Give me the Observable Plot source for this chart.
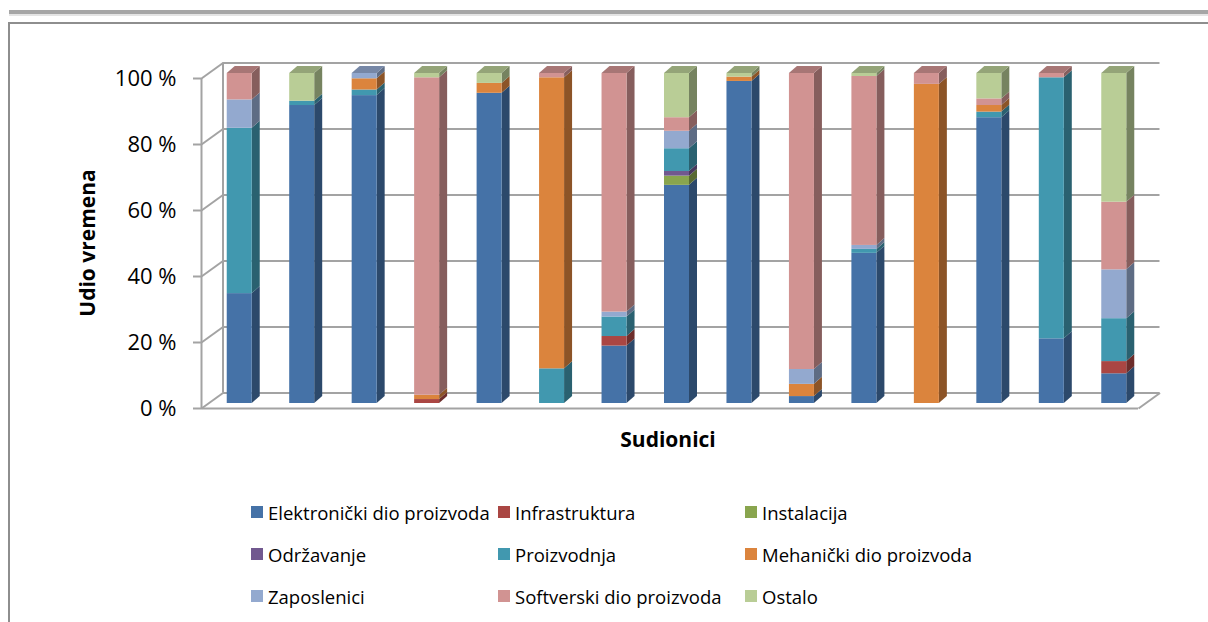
<!DOCTYPE html>
<html>
<head>
<meta charset="utf-8">
<script src="https://cdn.jsdelivr.net/npm/d3@7"></script>
<script src="https://cdn.jsdelivr.net/npm/@observablehq/plot@0.6"></script>
<style>
  html, body { margin: 0; padding: 0; background: #fff; }
  #wrap { position: relative; width: 1208px; height: 622px; overflow: hidden; background: #fff; font-family: "Open Sans", sans-serif; color: #000; }
  #topline { position: absolute; left: 9px; right: 0; top: 10px; height: 4px; background: #a6a6a6; }
  #topline2 { position: absolute; left: 9px; right: 0; top: 14px; height: 2px; background: #e4e4e4; }
  #box { position: absolute; left: 8px; top: 22px; width: 1300px; height: 800px; border: 2px solid #8e8e8e; box-sizing: border-box; }
  #chart { position: absolute; left: 0; top: 0; }
  #ytitle { position: absolute; left: 87px; top: 243px; transform: translate(-50%, -50%) rotate(-90deg); font-weight: 700; font-size: 21px; white-space: nowrap; }
  #xtitle { position: absolute; left: 668px; top: 425px; transform: translateX(-50%); font-weight: 700; font-size: 21px; white-space: nowrap; line-height: 28px; }
  .item { position: absolute; display: flex; align-items: center; height: 26px; font-size: 18.5px; white-space: nowrap; }
  .sw { width: 12px; height: 12px; margin-right: 5px; flex: none; }
</style>
</head>
<body>
<div id="wrap">
  <div id="topline"></div>
  <div id="topline2"></div>
  <div id="box"></div>
  <div id="chart"></div>
  <div id="ytitle">Udio vremena</div>
  <div id="xtitle">Sudionici</div>
  <div id="legend"></div>
</div>
<script>
// ---- data ----
const participants = d3.range(1, 16); // 15 sudionika
const seriesNames = [
  "Elektronički dio proizvoda", "Infrastruktura", "Instalacija",
  "Održavanje", "Proizvodnja", "Mehanički dio proizvoda",
  "Zaposlenici", "Softverski dio proizvoda", "Ostalo"
];
const seriesColors = ["#4572A7", "#AA4643", "#89A54E", "#71588F", "#4198AF", "#DB843D", "#93A9CF", "#D19392", "#B9CD96"];

const elektronicki  = [33.3, 90.3, 93.3, 0, 94, 0, 17.4, 66.1, 97.6, 2.1, 45.5, 0, 86.6, 19.6, 9];
const infrastruktura = [0, 0, 0, 1.2, 0, 0, 2.9, 0, 0, 0, 0, 0, 0, 0, 3.7];
const instalacija   = [0, 0, 0, 0, 0, 0, 0, 2.8, 0, 0, 0, 0, 0, 0, 0];
const odrzavanje    = [0, 0, 0, 0, 0, 0, 0, 1.4, 0, 0, 0, 0, 0, 0, 0];
const proizvodnja   = [50.1, 1.3, 1.7, 0, 0, 10.5, 5.9, 6.9, 0, 0, 1.2, 0, 1.7, 79.1, 13];
const mehanicki     = [0, 0, 3.4, 1.3, 3, 88.2, 0, 0, 1.3, 3.7, 0, 96.7, 2, 0, 0];
const zaposlenici   = [8.6, 0, 1.6, 0, 0, 0, 1.5, 5.3, 0, 4.5, 1.2, 0, 0, 0, 14.8];
const softverski    = [8, 0, 0, 96.2, 0, 1.3, 72.3, 4.1, 0, 89.7, 51.2, 3.3, 2, 1.3, 20.5];
const ostalo        = [0, 8.4, 0, 1.3, 3, 0, 0, 13.4, 1.1, 0, 0.9, 0, 7.7, 0, 39];
const seriesValues = [elektronicki, infrastruktura, instalacija, odrzavanje, proizvodnja, mehanicki, zaposlenici, softverski, ostalo];

const yTicks = [0, 20, 40, 60, 80, 100];

// ---- layout ----
const W = 1208, H = 470, mL = 208, mR = 63, mT = 73, mB = 67;
const kx = (participants.length) / (W - mL - mR); // x units per px
const ky = 100 / (H - mT - mB);                    // y units per px
const halfW = 12.5 * kx;
const depthX = 8 * kx, depthY = 7 * ky;            // bar depth
const front = {dx: -7, dy: 5};                     // front axis plane offset
const back = {dx: 14.5, dy: -10.5};                // back wall offset

const shade = (c, k) => { const r = d3.rgb(c); return d3.rgb(r.r * k, r.g * k, r.b * k).formatHex(); };

// build stacked segments
const segs = [];
participants.forEach((p, i) => {
  let acc = 0;
  seriesNames.forEach((s, j) => {
    const v = seriesValues[j][i];
    if (v > 0) {
      segs.push({p, s, j, y1: acc, y2: acc + v, color: seriesColors[j]});
      acc += v;
    }
  });
});
const sidePts = segs.flatMap((d, k) => [
  {key: k, x: d.p + halfW, y1: d.y1, y2: d.y2, fill: shade(d.color, 0.64)},
  {key: k, x: d.p + halfW + depthX, y1: d.y1 + depthY, y2: d.y2 + depthY, fill: shade(d.color, 0.64)}
]);
const tops = participants.map(p => segs.filter(d => d.p === p).at(-1));
const topPts = tops.flatMap((d, k) => [
  {key: k, y: d.y2, x1: d.p - halfW, x2: d.p + halfW, fill: shade(d.color, 0.8)},
  {key: k, y: d.y2 + depthY, x1: d.p - halfW + depthX, x2: d.p + halfW + depthX, fill: shade(d.color, 0.8)}
]);

const gridColor = "#a3a3a3";
const chart = Plot.plot({
  width: W, height: H,
  marginLeft: mL, marginRight: mR, marginTop: mT, marginBottom: mB,
  x: {domain: [0.5, participants.length + 0.5], axis: null},
  y: {domain: [0, 100], axis: null},
  color: {type: "identity"},
  style: {fontFamily: "Open Sans, sans-serif", background: "transparent", overflow: "visible"},
  marks: [
    // back wall gridlines
    Plot.ruleY(yTicks, {y: d => d, x1: 0.5, x2: participants.length + 0.5, dx: back.dx, dy: back.dy, stroke: gridColor, strokeWidth: 2}),
    Plot.ruleX([0.5], {y1: 0, y2: 100, dx: back.dx, dy: back.dy, stroke: gridColor, strokeWidth: 2}),
    // side wall diagonals
    Plot.link(yTicks, {x1: 0.5, y1: d => d, x2: 0.5 + 21.5 * kx, y2: d => d + 15.5 * ky, dx: front.dx, dy: front.dy, stroke: gridColor, strokeWidth: 2}),
    // floor
    Plot.ruleY([0], {x1: 0.5, x2: participants.length + 0.5, dx: front.dx, dy: front.dy, stroke: gridColor, strokeWidth: 2}),
    Plot.link([0], {x1: participants.length + 0.5, y1: 0, x2: participants.length + 0.5 + 21.5 * kx, y2: 15.5 * ky, dx: front.dx, dy: front.dy, stroke: gridColor, strokeWidth: 2}),
    // front axis line and ticks
    Plot.ruleX([0.5], {y1: 0, y2: 100, dx: front.dx, dy: front.dy, stroke: gridColor, strokeWidth: 2}),
    Plot.ruleY(yTicks, {y: d => d, x1: 0.5 - 8 * kx, x2: 0.5, dx: front.dx, dy: front.dy, stroke: gridColor, strokeWidth: 2}),
    Plot.text(yTicks, {x: 0.5, y: d => d, text: d => `${d} %`, textAnchor: "end", dx: -32, dy: front.dy, fontSize: 22, fill: "#000"}),
    // bars: side faces, top faces, front faces
    Plot.areaY(sidePts, {x: "x", y1: "y1", y2: "y2", z: "key", fill: "fill"}),
    Plot.areaX(topPts, {y: "y", x1: "x1", x2: "x2", z: "key", fill: "fill"}),
    Plot.rect(segs, {x1: d => d.p - halfW, x2: d => d.p + halfW, y1: "y1", y2: "y2", fill: "color"})
  ]
});
document.getElementById("chart").appendChild(chart);

// legend
const legend = document.getElementById("legend");
seriesNames.forEach((s, j) => {
  const col = j % 3, row = Math.floor(j / 3);
  const el = document.createElement("div");
  el.className = "item";
  el.style.left = (251 + col * 247) + "px";
  el.style.top = (512 + row * 42 - 13) + "px";
  el.innerHTML = `<span class="sw" style="background:${seriesColors[j]}"></span><span>${s}</span>`;
  legend.appendChild(el);
});
</script>
</body>
</html>
